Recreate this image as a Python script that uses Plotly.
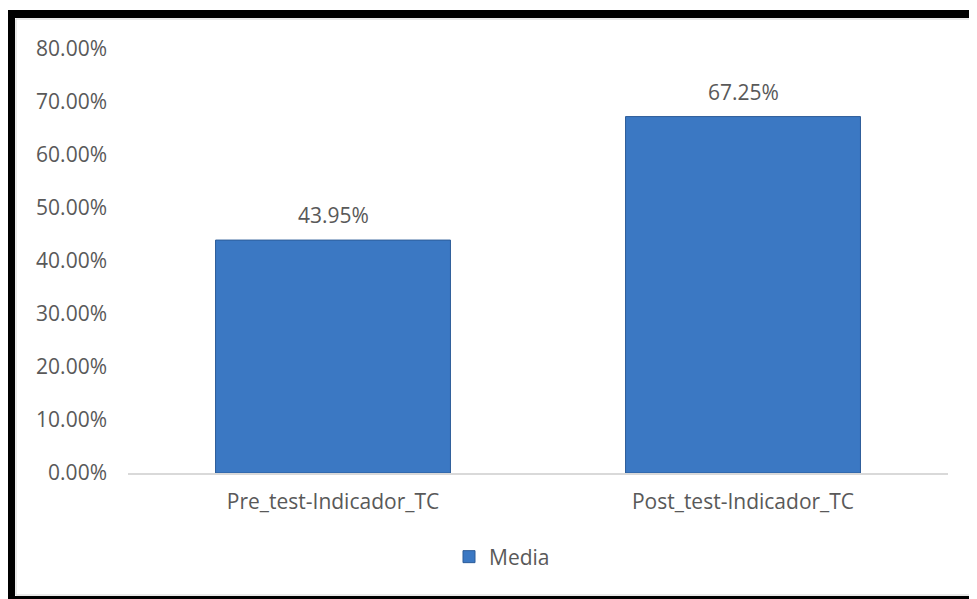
import plotly.graph_objects as go

categories = ["Pre_test-Indicador_TC", "Post_test-Indicador_TC"]
media = [0.4395, 0.6725]
tick_vals = [0, 0.1, 0.2, 0.3, 0.4, 0.5, 0.6, 0.7, 0.8]
tick_text = ["0.00%", "10.00%", "20.00%", "30.00%", "40.00%", "50.00%", "60.00%", "70.00%", "80.00%"]

# page has an 8px body margin, so the figure is sized to fit inside the window
W, H = 969, 591
L, R, T, B = 120, 29, 41, 126
pw, ph = W - L - R, H - T - B

def px_x(p):
    return (p - L) / pw

def px_y(p):
    return (H - B - p) / ph

font = "Open Sans, Noto Sans, sans-serif"
grey = "#595959"
fs = 21

fig = go.Figure()
fig.add_trace(go.Bar(
    x=categories, y=media, name="Media",
    marker=dict(color="#3B78C3", line=dict(color="#2D5C99", width=1)),
    showlegend=True,
))

for c, v in zip(categories, media):
    fig.add_annotation(x=c, y=v, text=f"{v*100:.2f}%", showarrow=False,
                       yanchor="bottom", yshift=9,
                       font=dict(family=font, size=fs, color=grey))

shapes = [
    dict(type="rect", xref="paper", yref="paper",
         x0=px_x(8), x1=px_x(968), y0=px_y(587), y1=px_y(11),
         line=dict(color="#D4D4D4", width=1), fillcolor="rgba(0,0,0,0)", layer="below"),
    dict(type="rect", xref="paper", yref="paper",
         x0=px_x(0), x1=px_x(7), y0=px_y(591), y1=px_y(2),
         line=dict(width=0), fillcolor="black"),
    dict(type="rect", xref="paper", yref="paper",
         x0=px_x(0), x1=px_x(969), y0=px_y(10), y1=px_y(2),
         line=dict(width=0), fillcolor="black"),
    dict(type="rect", xref="paper", yref="paper",
         x0=px_x(0), x1=px_x(969), y0=px_y(591), y1=px_y(588),
         line=dict(width=0), fillcolor="black"),
]

fig.update_layout(
    width=W, height=H,
    margin=dict(l=L, r=R, t=T, b=B, autoexpand=False),
    paper_bgcolor="white", plot_bgcolor="white",
    bargap=0.427,
    font=dict(family=font, size=fs, color=grey),
    shapes=shapes,
    showlegend=True,
    legend=dict(orientation="h", x=px_x(494), xanchor="center",
                y=px_y(549), yanchor="middle",
                font=dict(family=font, size=fs, color=grey),
                itemwidth=30),
    xaxis=dict(showline=True, linecolor="#D9D9D9", linewidth=2, ticks="",
               tickfont=dict(family=font, size=fs, color=grey),
               ticklabelstandoff=9, showgrid=False),
    yaxis=dict(range=[0, 0.8], tickvals=tick_vals, ticktext=tick_text,
               showgrid=False, zeroline=False, showline=False, ticks="",
               tickfont=dict(family=font, size=fs, color=grey),
               ticklabelstandoff=20),
)

fig.write_html("out.html")
